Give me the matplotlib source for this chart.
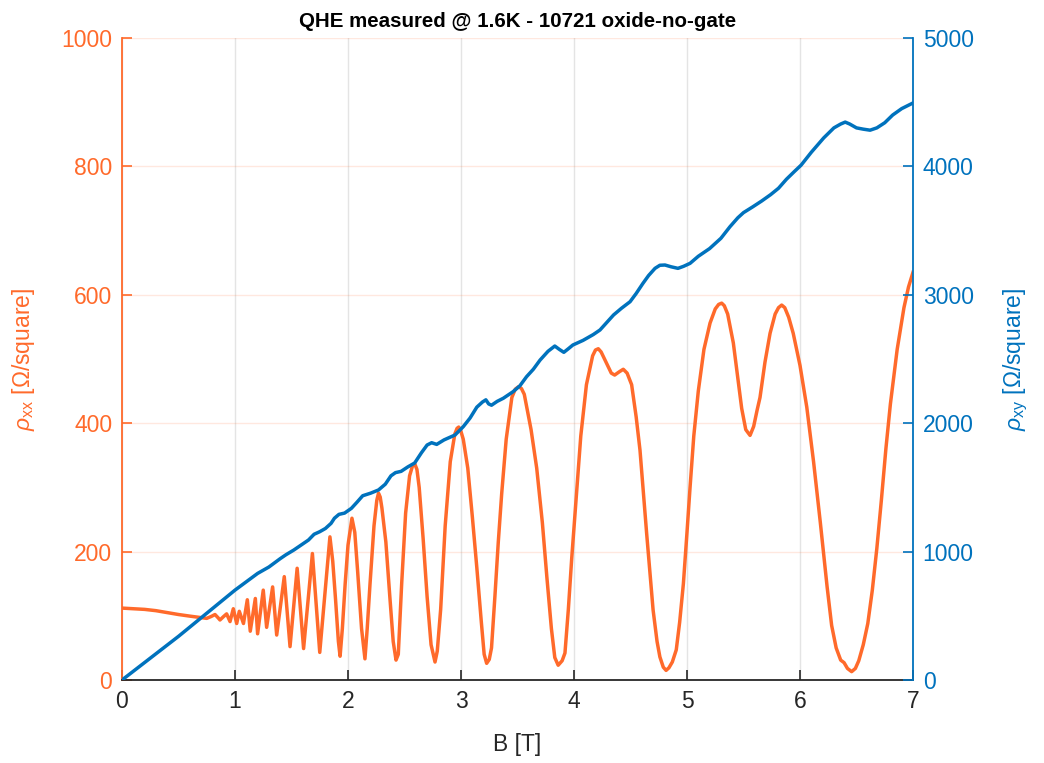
import matplotlib
matplotlib.use("Agg")
import matplotlib.pyplot as plt

# ---------------- data ----------------
B_xx = [0.00, 0.10, 0.20, 0.30, 0.40, 0.50, 0.60, 0.69, 0.75, 0.79, 0.823, 0.85, 0.867, 0.90,
        0.926, 0.956, 0.985, 1.015, 1.038, 1.075, 1.109, 1.135, 1.18, 1.20, 1.25, 1.28, 1.333,
        1.369, 1.436, 1.487, 1.55, 1.607, 1.685, 1.75,
        1.84, 1.865, 1.89, 1.915, 1.93, 1.95, 1.975, 2.00, 2.035, 2.06, 2.085, 2.12, 2.15, 2.17,
        2.195, 2.23, 2.255, 2.27, 2.285, 2.30, 2.335, 2.37, 2.40, 2.425, 2.445, 2.475, 2.51,
        2.545, 2.57, 2.59, 2.61, 2.63, 2.665, 2.70, 2.735, 2.77, 2.79, 2.82, 2.86, 2.905, 2.945,
        2.965, 2.98, 2.995, 3.02, 3.06, 3.10, 3.14, 3.18, 3.205, 3.227, 3.25, 3.27, 3.30, 3.33,
        3.36, 3.40, 3.45, 3.48, 3.51, 3.535, 3.56, 3.62, 3.67, 3.72, 3.76, 3.80, 3.83, 3.86,
        3.895, 3.92, 3.95, 3.98, 4.02, 4.06, 4.11, 4.165, 4.19, 4.215, 4.24, 4.27, 4.33, 4.36,
        4.40, 4.436, 4.47, 4.51, 4.55, 4.584, 4.643, 4.70, 4.735, 4.76, 4.79, 4.815, 4.84, 4.87,
        4.905, 4.935, 4.968, 5.00, 5.027, 5.06, 5.10, 5.15, 5.204, 5.25, 5.28, 5.307, 5.33,
        5.36, 5.41, 5.45, 5.484, 5.52, 5.558, 5.59, 5.62, 5.646, 5.69, 5.735, 5.78, 5.81,
        5.838, 5.865, 5.90, 5.94, 6.00, 6.06, 6.12, 6.18, 6.24, 6.28, 6.32, 6.36, 6.39, 6.42,
        6.457, 6.49, 6.52, 6.56, 6.60, 6.64, 6.68, 6.72, 6.76, 6.80, 6.86, 6.92, 6.96, 7.00]
rho_xx = [112, 111, 110, 108, 105, 102, 99.5, 97.5, 96, 99, 102, 97, 93.5, 99,
          103, 91, 111, 88, 107, 88, 125, 76, 127, 72, 140, 82, 145,
          70, 161, 52, 174, 49, 197, 43,
          223, 185, 125, 60, 37, 80, 150, 210, 252, 230, 170, 80, 33, 80,
          150, 240, 280, 291, 285, 268, 215, 130, 60, 31, 40, 150, 260,
          318, 333, 337, 328, 300, 220, 130, 55, 28, 45, 110, 240, 340, 383,
          392, 394, 390, 375, 330, 255, 175, 90, 40, 26, 32, 50, 130, 215,
          290, 375, 440, 453, 457, 454, 445, 390, 330, 245, 160, 80, 35, 23,
          30, 42, 110, 190, 285, 380, 460, 505, 514, 516, 511, 500, 478, 475,
          480, 484, 478, 460, 410, 358, 228, 109, 60, 36, 20, 15, 19, 28,
          47, 90, 150, 230, 300, 380, 450, 515, 556, 578, 585, 587, 583,
          570, 525, 470, 423, 390, 381, 395, 420, 440, 495, 540, 570, 580,
          584, 580, 565, 540, 490, 425, 340, 245, 145, 85, 50, 31, 27, 18,
          13, 18, 30, 55, 88, 140, 205, 280, 360, 430, 515, 580, 612, 635]

B_xy = [0.00, 0.25, 0.50, 0.75, 1.00, 1.10, 1.20, 1.30, 1.40, 1.45, 1.52, 1.60, 1.65, 1.70,
        1.75, 1.80, 1.85, 1.88, 1.92, 1.97, 2.03, 2.08, 2.13, 2.20, 2.27, 2.33, 2.38, 2.42,
        2.47, 2.53, 2.59, 2.65, 2.70, 2.74, 2.785, 2.85, 2.947, 3.02, 3.08, 3.14, 3.19, 3.22,
        3.245, 3.27, 3.32, 3.374, 3.46, 3.52, 3.58, 3.64, 3.70, 3.77, 3.83, 3.87, 3.91, 3.95,
        3.99, 4.08, 4.17, 4.23, 4.35, 4.42, 4.496, 4.55, 4.61, 4.66, 4.717, 4.76, 4.805, 4.86,
        4.92, 4.97, 5.027, 5.10, 5.20, 5.30, 5.38, 5.45, 5.50, 5.58, 5.66, 5.74, 5.81, 5.88,
        5.95, 6.01, 6.10, 6.21, 6.30, 6.36, 6.40, 6.44, 6.50, 6.56, 6.62, 6.68, 6.75, 6.82,
        6.90, 7.00]
rho_xy = [0, 170, 340, 520, 700, 765, 830, 880, 945, 975, 1012, 1060, 1090, 1135,
          1155, 1180, 1220, 1260, 1290, 1300, 1337, 1385, 1435, 1455, 1480, 1525, 1590, 1615,
          1625, 1660, 1690, 1770, 1830, 1848, 1835, 1870, 1908, 1973, 2040, 2125, 2165, 2182,
          2150, 2140, 2170, 2194, 2245, 2290, 2362, 2420, 2492, 2560, 2601, 2575, 2552, 2580,
          2609, 2645, 2690, 2726, 2843, 2895, 2946, 3010, 3089, 3150, 3206, 3230, 3232, 3218,
          3206, 3222, 3245, 3300, 3360, 3440, 3530, 3600, 3640, 3684, 3730, 3780, 3830, 3900,
          3960, 4010, 4110, 4222, 4300, 4330, 4345, 4330, 4300, 4290, 4282, 4300, 4340, 4400,
          4450, 4494]

x_ticks = [0, 1, 2, 3, 4, 5, 6, 7]
left_ticks = [0, 200, 400, 600, 800, 1000]
right_ticks = [0, 1000, 2000, 3000, 4000, 5000]

title_text = "QHE measured @ 1.6K - 10721 oxide-no-gate"
xlabel_text = "B [T]"
ylabel_left = r"$\rho_{\mathrm{xx}}$ [Ω/square]"
ylabel_right = r"$\rho_{\mathrm{xy}}$ [Ω/square]"

# ---------------- style ----------------
ORANGE = "#FF6A2B"
BLUE = "#0072BD"
DARK = "#262626"

plt.rcParams["font.family"] = ["Liberation Sans", "DejaVu Sans"]
plt.rcParams["mathtext.fontset"] = "custom"
plt.rcParams["mathtext.rm"] = "Liberation Sans"
plt.rcParams["mathtext.it"] = "Liberation Sans:italic"

fig = plt.figure(figsize=(10.44, 7.63), dpi=100)
ax = fig.add_axes([122 / 1044, 1 - 680 / 763, (913 - 122) / 1044, (680 - 38) / 763])
ax2 = ax.twinx()

ax.plot(B_xx, rho_xx, color=ORANGE, lw=2.5, solid_joinstyle="round", zorder=3)
ax2.plot(B_xy, rho_xy, color=BLUE, lw=2.5, solid_joinstyle="round", zorder=3)

ax.set_xlim(0, 7)
ax.set_ylim(0, 1000)
ax2.set_ylim(0, 5000)
ax.set_xticks(x_ticks)
ax.set_yticks(left_ticks)
ax2.set_yticks(right_ticks)

ax.grid(axis="x", color=DARK, alpha=0.12, lw=1.0)
ax.grid(axis="y", color=ORANGE, alpha=0.15, lw=1.0)
ax.set_axisbelow(True)

for a in (ax, ax2):
    a.spines["top"].set_visible(False)
ax.spines["right"].set_visible(False)
ax2.spines["left"].set_visible(False)
ax2.spines["bottom"].set_visible(False)
ax.spines["left"].set_color(ORANGE)
ax2.spines["right"].set_color(BLUE)
ax.spines["bottom"].set_color(DARK)
for s in ("left", "bottom"):
    ax.spines[s].set_linewidth(1.3)
ax2.spines["right"].set_linewidth(1.3)

fs = 16.5
ax.tick_params(axis="x", direction="in", length=7, width=1.2, colors=DARK, labelsize=fs, pad=7)
ax.tick_params(axis="y", direction="in", length=7, width=1.2, colors=ORANGE, labelsize=fs, pad=7)
ax2.tick_params(axis="y", direction="in", length=7, width=1.2, colors=BLUE, labelsize=fs, pad=7)

ax.set_xlabel(xlabel_text, fontsize=fs, color=DARK)
ax.xaxis.set_label_coords(0.5, -0.082)
ax.set_ylabel(ylabel_left, fontsize=fs, color=ORANGE)
ax.yaxis.set_label_coords(-0.108, 0.5)
ax2.set_ylabel(ylabel_right, fontsize=fs, color=BLUE)
ax2.yaxis.set_label_coords(1.112, 0.5)

ax.set_title(title_text, fontsize=14.8, fontweight="bold", color="black", pad=8)

fig.savefig("out.png", dpi=100)
